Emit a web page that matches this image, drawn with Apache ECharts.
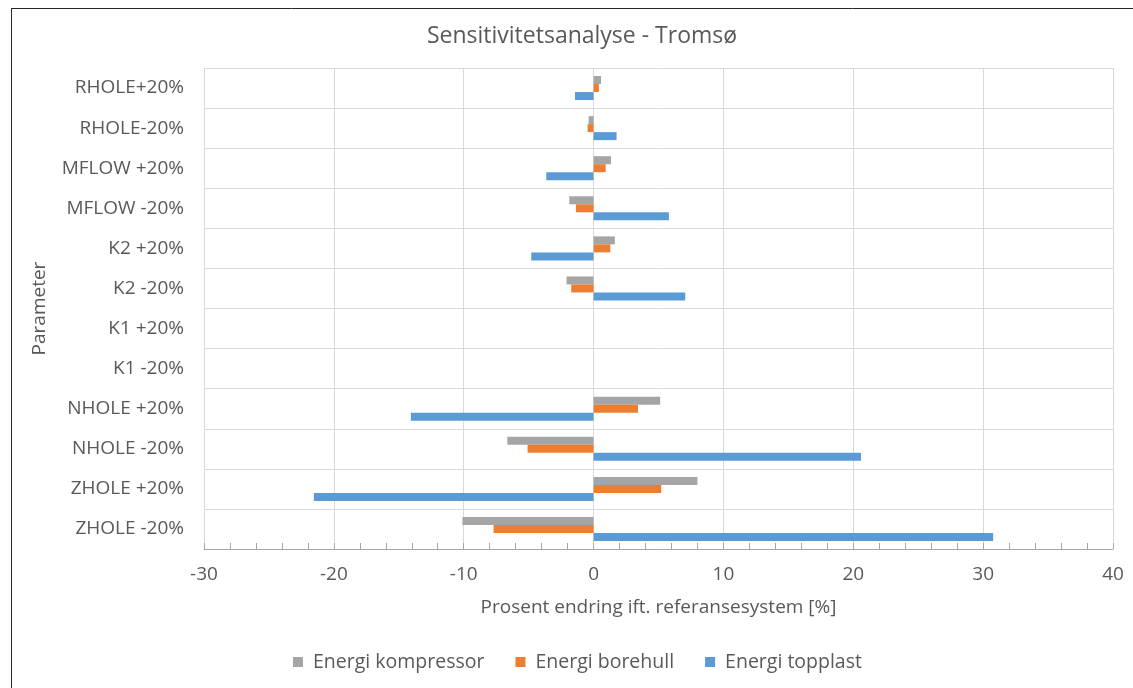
<!DOCTYPE html>
<html>
<head>
<meta charset="utf-8">
<script src="https://cdn.jsdelivr.net/npm/echarts@6/dist/echarts.min.js"></script>
<style>
  html, body { margin: 0; padding: 0; background: #fff; }
  #chart { width: 1133px; height: 688px; }
</style>
</head>
<body>
<div id="chart"></div>
<script>
// Parameter variations, top to bottom
const categories = [
  'RHOLE+20%', 'RHOLE-20%', 'MFLOW +20%', 'MFLOW -20%',
  'K2 +20%', 'K2 -20%', 'K1 +20%', 'K1 -20%',
  'NHOLE +20%', 'NHOLE -20%', 'ZHOLE +20%', 'ZHOLE -20%'
];

// Percent change relative to the reference system
const energiKompressor = [0.57, -0.38, 1.34, -1.87, 1.64, -2.08, 0, 0, 5.13, -6.64, 8.0, -10.1];
const energiBorehull   = [0.41, -0.46, 0.93, -1.36, 1.29, -1.72, 0, 0, 3.42, -5.08, 5.21, -7.7];
const energiTopplast   = [-1.43, 1.77, -3.64, 5.80, -4.80, 7.06, 0, 0, -14.07, 20.59, -21.54, 30.77];

const xTicks = [-30, -20, -10, 0, 10, 20, 30, 40];

const FONT = 'Open Sans';
const TEXT = '#595959';
const GRID = '#d9d9d9';
const SIZE = 19;

const chart = echarts.init(document.getElementById('chart'), null, { renderer: 'canvas' });

function barSeries(name, data, color) {
  return {
    name: name,
    type: 'bar',
    data: data,
    barWidth: 8,
    barGap: '0%',
    itemStyle: { color: color }
  };
}

chart.setOption({
  animation: false,
  title: {
    text: 'Sensitivitetsanalyse - Tromsø',
    left: 577,
    textAlign: 'center',
    top: 20,
    textStyle: { fontFamily: FONT, fontSize: 23, fontWeight: 'normal', color: TEXT }
  },
  legend: {
    bottom: 11,
    left: 288,
    itemWidth: 10,
    itemHeight: 10,
    itemGap: 31,
    icon: 'rect',
    textStyle: { fontFamily: FONT, fontSize: 19.5, color: TEXT, padding: [0, 0, 0, 5] },
    data: ['Energi kompressor', 'Energi borehull', 'Energi topplast']
  },
  grid: { left: 204, right: 20, top: 68, bottom: 139, containLabel: false },
  xAxis: {
    type: 'value',
    min: xTicks[0],
    max: xTicks[xTicks.length - 1],
    interval: 10,
    name: 'Prosent endring ift. referansesystem [%]',
    nameLocation: 'middle',
    nameGap: 49,
    nameTextStyle: { fontFamily: FONT, fontSize: SIZE, color: TEXT },
    axisLine: { show: true, lineStyle: { color: '#a6a6a6', width: 1 } },
    axisTick: { show: true, inside: true, length: 6, lineStyle: { color: '#a6a6a6' } },
    minorTick: { show: true, splitNumber: 5, length: 6, lineStyle: { color: '#a6a6a6' } },
    axisLabel: { fontFamily: FONT, fontSize: SIZE, color: TEXT, margin: 16 },
    splitLine: { show: true, lineStyle: { color: GRID, width: 1 } }
  },
  yAxis: {
    type: 'category',
    inverse: true,
    data: categories,
    name: 'Parameter',
    nameLocation: 'middle',
    nameRotate: 90,
    nameGap: 155,
    nameTextStyle: { fontFamily: FONT, fontSize: SIZE, color: TEXT },
    axisLine: { show: false },
    axisTick: { show: false },
    axisLabel: { fontFamily: FONT, fontSize: SIZE, color: TEXT, margin: 20 },
    splitLine: { show: true, lineStyle: { color: GRID, width: 1 } }
  },
  graphic: [
    { type: 'line', shape: { x1: 11, y1: 8.5, x2: 1133, y2: 8.5 }, style: { stroke: '#262626', lineWidth: 1 } },
    { type: 'line', shape: { x1: 11.5, y1: 8, x2: 11.5, y2: 688 }, style: { stroke: '#262626', lineWidth: 1 } }
  ],
  series: [
    barSeries('Energi kompressor', energiKompressor, '#a5a5a5'),
    barSeries('Energi borehull', energiBorehull, '#ed7d31'),
    barSeries('Energi topplast', energiTopplast, '#5b9bd5')
  ]
});
</script>
</body>
</html>
